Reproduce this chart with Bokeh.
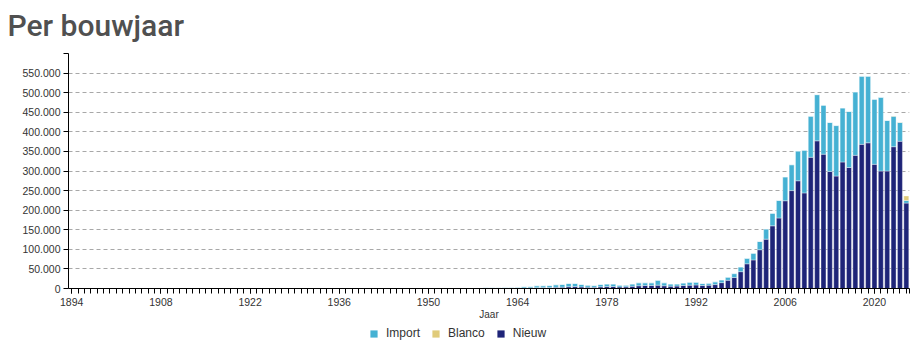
from bokeh.plotting import figure
from bokeh.layouts import column
from bokeh.models import (FixedTicker, CustomJSTickFormatter, Legend, LegendItem,
                          ColumnDataSource)
from bokeh.embed import file_html
from bokeh.resources import INLINE

# ---------------- data ----------------
years = list(range(1894, 2026))

nieuw = [
    # 1894-1903
    0, 0, 0, 0, 0, 1, 1, 2, 2, 3,
    # 1904-1913
    3, 4, 5, 6, 8, 9, 10, 12, 14, 15,
    # 1914-1923
    14, 10, 9, 11, 16, 20, 25, 28, 33, 38,
    # 1924-1933
    45, 52, 60, 66, 72, 78, 80, 74, 70, 72,
    # 1934-1943
    78, 85, 92, 100, 105, 80, 40, 22, 15, 12,
    # 1944-1953
    10, 18, 35, 55, 70, 85, 100, 110, 120, 140,
    # 1954-1963
    170, 200, 300, 300, 350, 400, 450, 500, 600, 800,
    # 1964-1973
    1000, 1500, 1700, 2200, 2300, 2500, 3000, 3500, 4500, 4800,
    # 1974-1983
    4000, 3400, 3000, 4200, 4800, 5000, 4000, 4200, 5500, 7000,
    # 1984-1993
    7600, 7800, 8500, 7000, 6000, 6200, 7600, 8500, 9000, 7600,
    # 1994-2003
    8500, 10000, 15000, 21000, 28000, 43000, 63000, 73000, 99000, 126000,
    # 2004-2013
    160000, 180000, 224000, 250000, 275000, 244000, 335000, 377000, 343000, 299000,
    # 2014-2023
    287000, 323000, 309000, 340000, 368000, 372000, 317000, 300000, 300000, 362000,
    # 2024-2025
    376000, 218000,
]

importv = [
    # 1894-1903
    1, 0, 1, 2, 1, 3, 2, 4, 5, 6,
    # 1904-1913
    7, 8, 9, 11, 12, 14, 15, 18, 20, 22,
    # 1914-1923
    20, 15, 14, 18, 24, 30, 38, 45, 52, 60,
    # 1924-1933
    70, 82, 95, 110, 120, 130, 135, 125, 118, 122,
    # 1934-1943
    130, 140, 155, 170, 180, 140, 70, 40, 28, 22,
    # 1944-1953
    20, 35, 70, 110, 150, 190, 240, 280, 330, 400,
    # 1954-1963
    480, 600, 900, 1000, 1050, 1200, 1350, 1500, 1700, 2000,
    # 1964-1973
    2000, 3000, 3300, 4800, 4700, 5000, 6500, 7000, 8500, 8200,
    # 1974-1983
    6500, 5100, 4500, 6300, 6700, 6500, 4500, 4300, 6000, 7500,
    # 1984-1993
    6900, 6700, 12500, 7500, 5500, 5300, 6400, 7500, 7000, 5100,
    # 1994-2003
    5000, 7000, 7000, 8000, 10000, 12000, 14000, 17000, 21000, 26000,
    # 2004-2013
    32000, 45000, 61000, 66000, 76000, 109000, 105000, 118000, 125000, 125000,
    # 2014-2023
    129000, 138000, 143000, 162000, 174000, 170000, 166000, 188000, 129000, 78000,
    # 2024-2025
    48000, 6800,
]

blanco = [
    # 1894-1903
    0, 0, 0, 0, 0, 0, 0, 0, 0, 0,
    # 1904-1913
    0, 0, 0, 0, 0, 0, 0, 0, 0, 0,
    # 1914-1923
    0, 0, 0, 0, 0, 0, 0, 0, 0, 0,
    # 1924-1933
    0, 0, 0, 0, 0, 0, 0, 0, 0, 0,
    # 1934-1943
    0, 0, 0, 0, 0, 0, 0, 0, 0, 0,
    # 1944-1953
    0, 0, 0, 0, 0, 0, 0, 0, 0, 0,
    # 1954-1963
    0, 0, 0, 0, 0, 0, 0, 0, 0, 0,
    # 1964-1973
    0, 0, 0, 0, 0, 0, 0, 0, 0, 0,
    # 1974-1983
    0, 0, 0, 0, 0, 0, 0, 0, 0, 0,
    # 1984-1993
    0, 0, 0, 0, 0, 0, 0, 0, 0, 0,
    # 1994-2003
    0, 0, 0, 0, 0, 0, 0, 0, 0, 0,
    # 2004-2013
    0, 0, 0, 0, 0, 0, 0, 0, 0, 0,
    # 2014-2023
    0, 0, 0, 0, 0, 0, 0, 0, 0, 200,
    # 2024-2025
    400, 11500,
]

title_text = "Per bouwjaar"
x_axis_title = "Jaar"
label_years = [1894, 1908, 1922, 1936, 1950, 1964, 1978, 1992, 2006, 2020]
y_ticks = [0, 50000, 100000, 150000, 200000, 250000, 300000, 350000,
           400000, 450000, 500000, 550000]
y_top = 600000

legend_names = ["Import", "Blanco", "Nieuw"]
legend_fields = {"Import": "importv", "Blanco": "blanco", "Nieuw": "nieuw"}
series_colors = {"Import": "#45b1d3", "Blanco": "#e0cb7a", "Nieuw": "#1e2478"}

src = ColumnDataSource(dict(year=years, nieuw=nieuw, importv=importv, blanco=blanco))


def bare(fig):
    fig.axis.visible = False
    fig.grid.visible = False
    fig.outline_line_color = None
    fig.background_fill_color = "white"
    fig.border_fill_color = "white"


# ---------------- title strip ----------------
t = figure(width=919, height=48, output_backend="svg", toolbar_location=None,
           x_range=(0, 1), y_range=(0, 1),
           min_border_left=68, min_border_right=10, min_border_top=46,
           min_border_bottom=0)
bare(t)
t.title.text = title_text
t.title.text_font = "Roboto Medium"
t.title.text_font_size = "30px"
t.title.text_font_style = "normal"
t.title.text_color = "#505050"
t.title.align = "left"
t.title.offset = -61
t.title.standoff = 10

# ---------------- main chart ----------------
p = figure(width=919, height=274, output_backend="svg", toolbar_location=None,
           x_range=(1893.5, 2025.5), y_range=(0, y_top),
           min_border_left=68, min_border_right=10, min_border_top=5,
           min_border_bottom=33)
p.background_fill_color = "white"
p.border_fill_color = "white"
p.outline_line_color = None

p.vbar_stack(["nieuw", "importv", "blanco"], x="year", width=0.78, source=src,
             color=[series_colors["Nieuw"], series_colors["Import"],
                    series_colors["Blanco"]],
             line_color="white", line_alpha=0.45, line_width=0.8)

# y axis
yax = p.yaxis[0]
yax.ticker = FixedTicker(ticks=y_ticks + [y_top])
yax.formatter = CustomJSTickFormatter(code=r"""
if (tick >= 600000) { return ''; }
return Math.round(tick).toString().replace(/\B(?=(\d{3})+(?!\d))/g, '.');
""")
yax.axis_line_color = "black"
yax.major_tick_line_color = "black"
yax.major_tick_out = 5
yax.major_tick_in = 0
yax.minor_tick_line_color = None
yax.major_label_text_font = "Liberation Sans"
yax.major_label_text_font_size = "10.5px"
yax.major_label_text_color = "#333333"
yax.major_label_standoff = 3

# x axis
xax = p.xaxis[0]
xax.ticker = FixedTicker(ticks=label_years, minor_ticks=years + [2025.5])
xax.axis_line_color = "black"
xax.major_tick_line_color = "black"
xax.minor_tick_line_color = "black"
xax.major_tick_out = 5
xax.major_tick_in = 0
xax.minor_tick_out = 5
xax.minor_tick_in = 0
xax.major_label_text_font = "Liberation Sans"
xax.major_label_text_font_size = "10.5px"
xax.major_label_text_color = "#333333"
xax.major_label_standoff = 4
xax.axis_label = x_axis_title
xax.axis_label_text_font = "Liberation Sans"
xax.axis_label_text_font_size = "10px"
xax.axis_label_text_font_style = "normal"
xax.axis_label_text_color = "#333333"
xax.axis_label_standoff = 0

# grid
p.xgrid.visible = False
p.ygrid.ticker = FixedTicker(ticks=y_ticks[1:])
p.ygrid.grid_line_color = "#a8a8a8"
p.ygrid.grid_line_dash = "4 3"
p.ygrid.grid_line_width = 1

# ---------------- legend strip ----------------
# hidden copies of the series give the legend its swatches
q = figure(width=919, height=29, output_backend="svg", toolbar_location=None,
           x_range=(1893.5, 2025.5), y_range=(0, y_top),
           min_border_left=68, min_border_right=10, min_border_top=0,
           min_border_bottom=0)
bare(q)

items = []
for name in legend_names:
    r = q.vbar(x="year", top=legend_fields[name], width=0.78, source=src,
               fill_color=series_colors[name], line_color=None, visible=False)
    items.append(LegendItem(label=name, renderers=[r]))

legend = Legend(items=items, orientation="horizontal", location=(301, 11),
                glyph_width=9, glyph_height=9, label_height=9,
                label_standoff=8, spacing=11, padding=0, margin=0,
                border_line_color=None, background_fill_alpha=0,
                inactive_fill_alpha=0,
                label_text_font="Liberation Sans", label_text_font_size="12px",
                label_text_color="#333333")
q.add_layout(legend, "center")

layout = column(t, p, q, spacing=0)
open("out.html", "w").write(file_html(layout, INLINE))
